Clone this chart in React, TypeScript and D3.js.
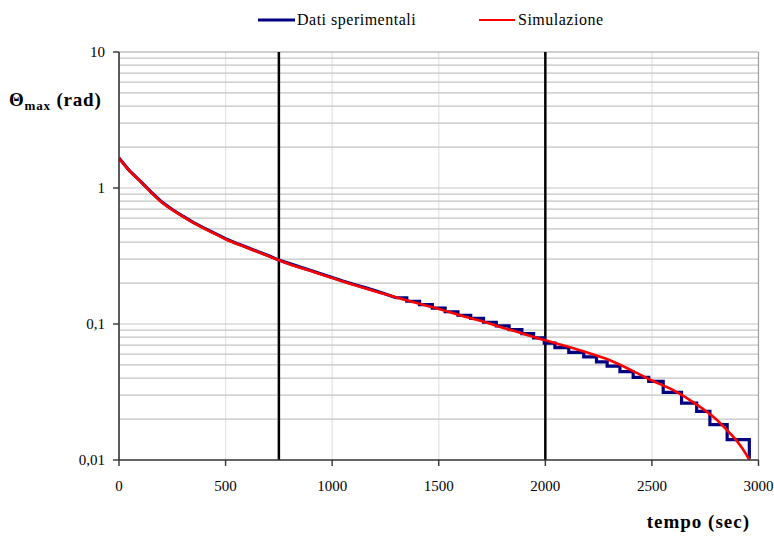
import React from 'react';
import * as d3 from 'd3';

// Simulated peak amplitude (rad) vs time (s)
const simTime = [0, 50, 100, 150, 200, 250, 300, 350, 400, 450, 500, 600, 700, 800, 900, 1000, 1100, 1200, 1300, 1400, 1500, 1600, 1700, 1800, 1900, 2000, 2100, 2200, 2300, 2400, 2500, 2600, 2700, 2800, 2850, 2900, 2930, 2958];
const simTheta = [1.66, 1.33, 1.12, 0.93, 0.785, 0.69, 0.615, 0.553, 0.503, 0.46, 0.42, 0.364, 0.316, 0.275, 0.245, 0.218, 0.194, 0.174, 0.157, 0.142, 0.129, 0.116, 0.105, 0.094, 0.0846, 0.0758, 0.0687, 0.0614, 0.0543, 0.046, 0.0384, 0.0326, 0.0262, 0.02, 0.0167, 0.0137, 0.0118, 0.01];

// Measured peak amplitude (rad). Up to 1300 s the samples are dense enough to join directly;
// afterwards each value is a held level starting at the given time.
const expTime = [0, 50, 100, 150, 200, 250, 300, 350, 400, 450, 500, 550, 600, 650, 700, 750, 800, 850, 900, 950, 1000, 1050, 1100, 1150, 1200, 1250, 1300, 1350, 1410, 1470, 1530, 1590, 1650, 1710, 1770, 1830, 1890, 1945, 1995, 2045, 2110, 2180, 2240, 2290, 2350, 2412, 2485, 2553, 2639, 2710, 2772, 2853, 2957];
const expTheta = [1.66, 1.335, 1.125, 0.935, 0.79, 0.695, 0.62, 0.557, 0.507, 0.464, 0.424, 0.393, 0.367, 0.341, 0.319, 0.295, 0.278, 0.262, 0.247, 0.233, 0.22, 0.207, 0.196, 0.186, 0.176, 0.166, 0.156, 0.147, 0.139, 0.131, 0.123, 0.116, 0.11, 0.103, 0.097, 0.091, 0.085, 0.079, 0.0724, 0.067, 0.0618, 0.0574, 0.0527, 0.049, 0.0447, 0.0405, 0.0378, 0.0314, 0.0262, 0.0228, 0.0182, 0.0141, 0.0102];
const stepStart = 1300;

const xTicks = [0, 500, 1000, 1500, 2000, 2500, 3000];
const yTicks = [0.01, 0.1, 1, 10];
const yTickLabels = ['0,01', '0,1', '1', '10'];
const markerTimes = [750, 2000];
const seriesNames = ['Dati sperimentali', 'Simulazione'];

const W = 774;
const H = 536;
const left = 119;
const right = 758.5;
const top = 52;
const bottom = 460;
const FONT = '"Liberation Serif", "Times New Roman", serif';

export default function App() {
  const x = d3.scaleLinear().domain([0, 3000]).range([left, right]);
  const y = d3.scaleLog().domain([0.01, 10]).range([bottom, top]);

  const gridValues: number[] = [];
  [0.01, 0.1, 1].forEach((d) => {
    for (let k = 1; k <= 9; k++) {
      const v = d * k;
      if (v > 0.01 && v < 10) gridValues.push(v);
    }
  });

  const simPts = simTime.map((t, i) => [t, simTheta[i]] as [number, number]);
  const expPts = expTime.map((t, i) => [t, expTheta[i]] as [number, number]);
  const expSmooth = expPts.filter((p) => p[0] <= stepStart);
  const expSteps = expPts.filter((p) => p[0] >= stepStart);

  const simLine = d3
    .line<[number, number]>()
    .x((p) => x(p[0]))
    .y((p) => y(p[1]))
    .curve(d3.curveMonotoneX);

  const expLineSmooth = d3
    .line<[number, number]>()
    .x((p) => x(p[0]))
    .y((p) => y(p[1]));

  const expLineSteps = d3
    .line<[number, number]>()
    .x((p) => x(p[0]))
    .y((p) => y(p[1]))
    .curve(d3.curveStepAfter);

  const textStyle = { fontFamily: FONT };

  return (
    <svg
      width={W}
      height={H}
      viewBox={`0 0 ${W} ${H}`}
      style={{ position: 'absolute', left: 0, top: 0, background: '#fff' }}
    >
      <defs>
        <clipPath id="plot-clip">
          <rect x={left} y={top} width={right - left} height={bottom - top} />
        </clipPath>
      </defs>

      {/* vertical grid */}
      {xTicks.slice(1, -1).map((t) => (
        <line key={'vg' + t} x1={x(t)} x2={x(t)} y1={top} y2={bottom} stroke="#e2e2e2" strokeWidth={1.2} />
      ))}
      {/* horizontal grid */}
      {gridValues.map((v) => (
        <line key={'hg' + v} x1={left} x2={right} y1={y(v)} y2={y(v)} stroke="#c4c4c4" strokeWidth={1.2} />
      ))}

      {/* plot frame */}
      <line x1={left} x2={right} y1={top} y2={top} stroke="#a0a0a0" strokeWidth={1.2} />
      <line x1={right} x2={right} y1={top} y2={bottom} stroke="#a0a0a0" strokeWidth={1.2} />

      {/* reference times */}
      {markerTimes.map((t) => (
        <line key={'m' + t} x1={x(t)} x2={x(t)} y1={top} y2={bottom} stroke="#000" strokeWidth={2.5} />
      ))}

      <g clipPath="url(#plot-clip)">
        <path d={expLineSmooth(expSmooth) || ''} fill="none" stroke="#000080" strokeWidth={3.2} strokeLinejoin="round" />
        <path d={expLineSteps(expSteps) || ''} fill="none" stroke="#000080" strokeWidth={3.2} strokeLinejoin="miter" />
        <path d={simLine(simPts) || ''} fill="none" stroke="#ff0000" strokeWidth={2.6} strokeLinejoin="round" />
      </g>

      {/* axes */}
      <line x1={left} x2={left} y1={top} y2={bottom} stroke="#333" strokeWidth={1.6} />
      <line x1={left} x2={right} y1={bottom} y2={bottom} stroke="#333" strokeWidth={1.6} />
      {yTicks.map((v, i) => (
        <g key={'yt' + v}>
          <line x1={left - 6} x2={left} y1={y(v)} y2={y(v)} stroke="#333" strokeWidth={1.4} />
          <text x={105} y={y(v) + 5} textAnchor="end" fontSize={15} fill="#000" style={textStyle}>
            {yTickLabels[i]}
          </text>
        </g>
      ))}
      {xTicks.map((t) => (
        <g key={'xt' + t}>
          <line x1={x(t)} x2={x(t)} y1={bottom} y2={bottom + 6} stroke="#333" strokeWidth={1.4} />
          <text x={x(t)} y={491} textAnchor="middle" fontSize={15} fill="#000" style={textStyle}>
            {t}
          </text>
        </g>
      ))}

      {/* axis titles */}
      <text x={9} y={106} fontSize={19} fontWeight="bold" letterSpacing={0.8} fill="#000" style={textStyle}>
        Θ<tspan fontSize={13} dy={4}>max</tspan>
        <tspan dy={-4}> (rad)</tspan>
      </text>
      <text x={750} y={528} textAnchor="end" fontSize={19} fontWeight="bold" letterSpacing={1} fill="#000" style={textStyle}>
        tempo (sec)
      </text>

      {/* legend */}
      <line x1={258} x2={295} y1={20} y2={20} stroke="#000080" strokeWidth={3.2} />
      <text x={297} y={25} fontSize={16} letterSpacing={0.5} fill="#000" style={textStyle}>
        {seriesNames[0]}
      </text>
      <line x1={479} x2={515} y1={20} y2={20} stroke="#ff0000" strokeWidth={1.8} />
      <text x={518} y={25} fontSize={16} letterSpacing={0.5} fill="#000" style={textStyle}>
        {seriesNames[1]}
      </text>
    </svg>
  );
}
